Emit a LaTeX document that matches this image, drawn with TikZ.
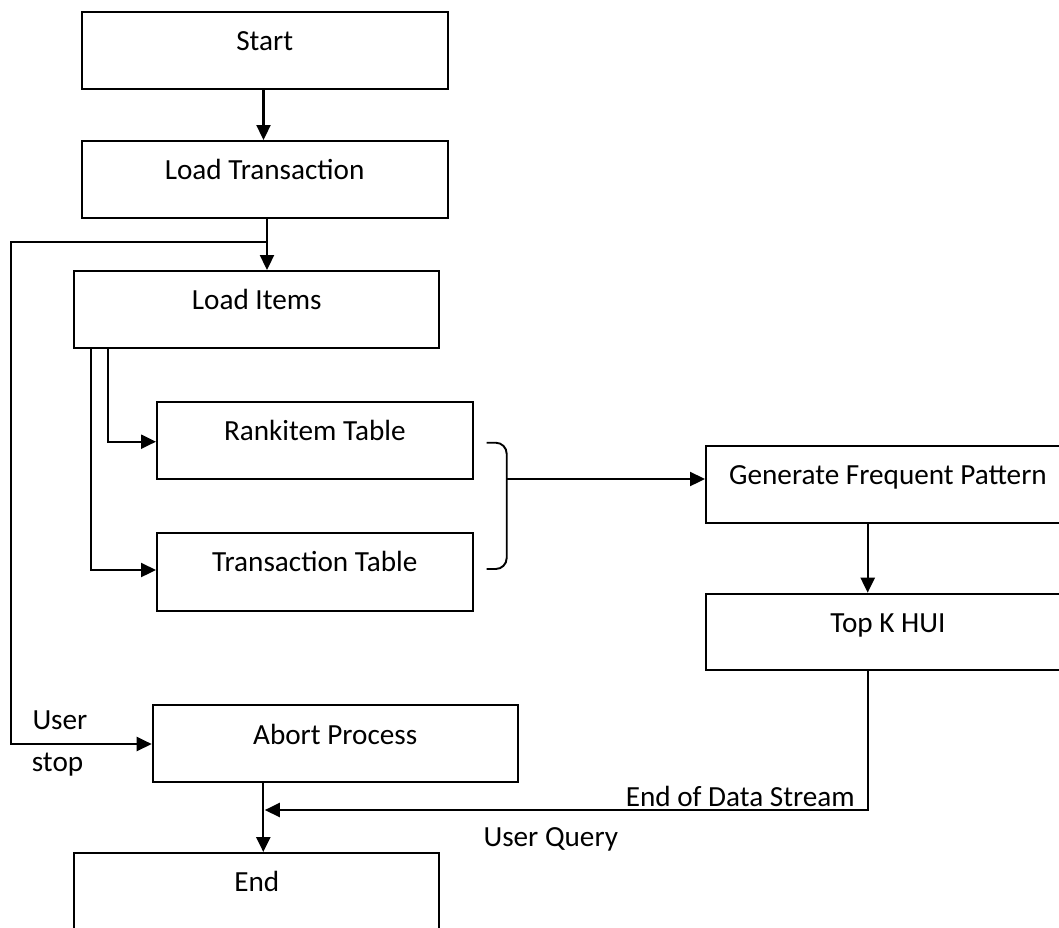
\documentclass[tikz,border=0pt]{standalone}
\usepackage{fontspec}
\setmainfont{Carlito}
\usetikzlibrary{arrows.meta}
\tikzset{
  box/.style={draw, line width=1.9pt, inner xsep=0pt, inner ysep=0pt, anchor=north west, text height=39pt, align=center},
  conn/.style={line width=2.3pt},
  arr/.style={conn, -{Triangle[length=15pt,width=14pt]}},
  lbl/.style={inner sep=0pt},
  bracket/.style={line width=1.9pt, rounded corners=11pt}
}
\begin{document}
\begin{tikzpicture}[x=1pt, y=-1pt, font=\fontsize{29.2}{35}\selectfont]
\path[use as bounding box, clip] (0,0) rectangle (1059,927);
% boxes
\node[box, minimum width=366pt, minimum height=77pt, text depth=38pt] (start) at (80.7,10.7) {Start};
\node[box, minimum width=366pt, minimum height=77.3pt, text depth=38.3pt] (lt) at (80.7,140) {Load Transaction};
\node[box, minimum width=365pt, minimum height=76.7pt, text depth=37.7pt] (li) at (73.3,270) {Load Items};
\node[box, minimum width=315.7pt, minimum height=77.6pt, text depth=38.6pt] (ri) at (156,400.7) {Rankitem Table};
\node[box, minimum width=315.7pt, minimum height=78.3pt, text depth=39.3pt] (tt) at (156,531.7) {Transaction Table};
\node[box, minimum width=364pt, minimum height=76.7pt, text depth=37.7pt] (gfp) at (705,445) {Generate Frequent Pattern};
\node[box, minimum width=364pt, minimum height=76.3pt, text depth=37.3pt] (topk) at (705,592.7) {Top K HUI};
\node[box, minimum width=365pt, minimum height=76.4pt, text depth=37.4pt] (abort) at (151.7,704.3) {Abort Process};
\node[box, minimum width=365pt, minimum height=110pt, text depth=71pt] (end) at (73.3,852) {End};
% labels
\node[lbl, anchor=base west] (user) at (32.3,729.3) {User};
\node[lbl, anchor=base west] (stop) at (31.7,771.7) {stop};
\node[lbl, anchor=base east] (eods) at (855,806.7) {End of Data Stream};
\node[lbl, anchor=base west] (uq) at (483.3,846.7) {User Query};
% helper coordinates
\coordinate (a1) at (263.5,0);
\coordinate (a2) at (267,242);
\coordinate (a3) at (11,744);
\coordinate (r1) at (108.3,441.7);
\coordinate (t1) at (90.7,570);
\coordinate (bm) at (507,479);
\coordinate (g1) at (867.7,0);
\coordinate (k1) at (868,810);
\coordinate (m) at (263.3,810);
% connectors
\draw[arr] (a1 |- start.south) -- (a1 |- lt.north);
\draw[arr] (a2 |- lt.south) -- (a2 |- li.north);
\draw[arr] (a2) -- (a2 -| a3) -- (a3) -- (a3 -| abort.west);
\draw[arr] (r1 |- li.south) -- (r1) -- (r1 -| ri.west);
\draw[arr] (t1 |- li.south) -- (t1) -- (t1 -| tt.west);
\draw[bracket] (486.7,442.7) -- (506.7,442.7) -- (506.7,569) -- (486.7,569);
\draw[arr] (bm) -- (bm -| gfp.west);
\draw[arr] (g1 |- gfp.south) -- (g1 |- topk.north);
\draw[arr] (k1 |- topk.south) -- (k1) -- ([xshift=1.5pt]m);
\draw[arr] (m |- abort.south) -- (m |- end.north);
\end{tikzpicture}
\end{document}
